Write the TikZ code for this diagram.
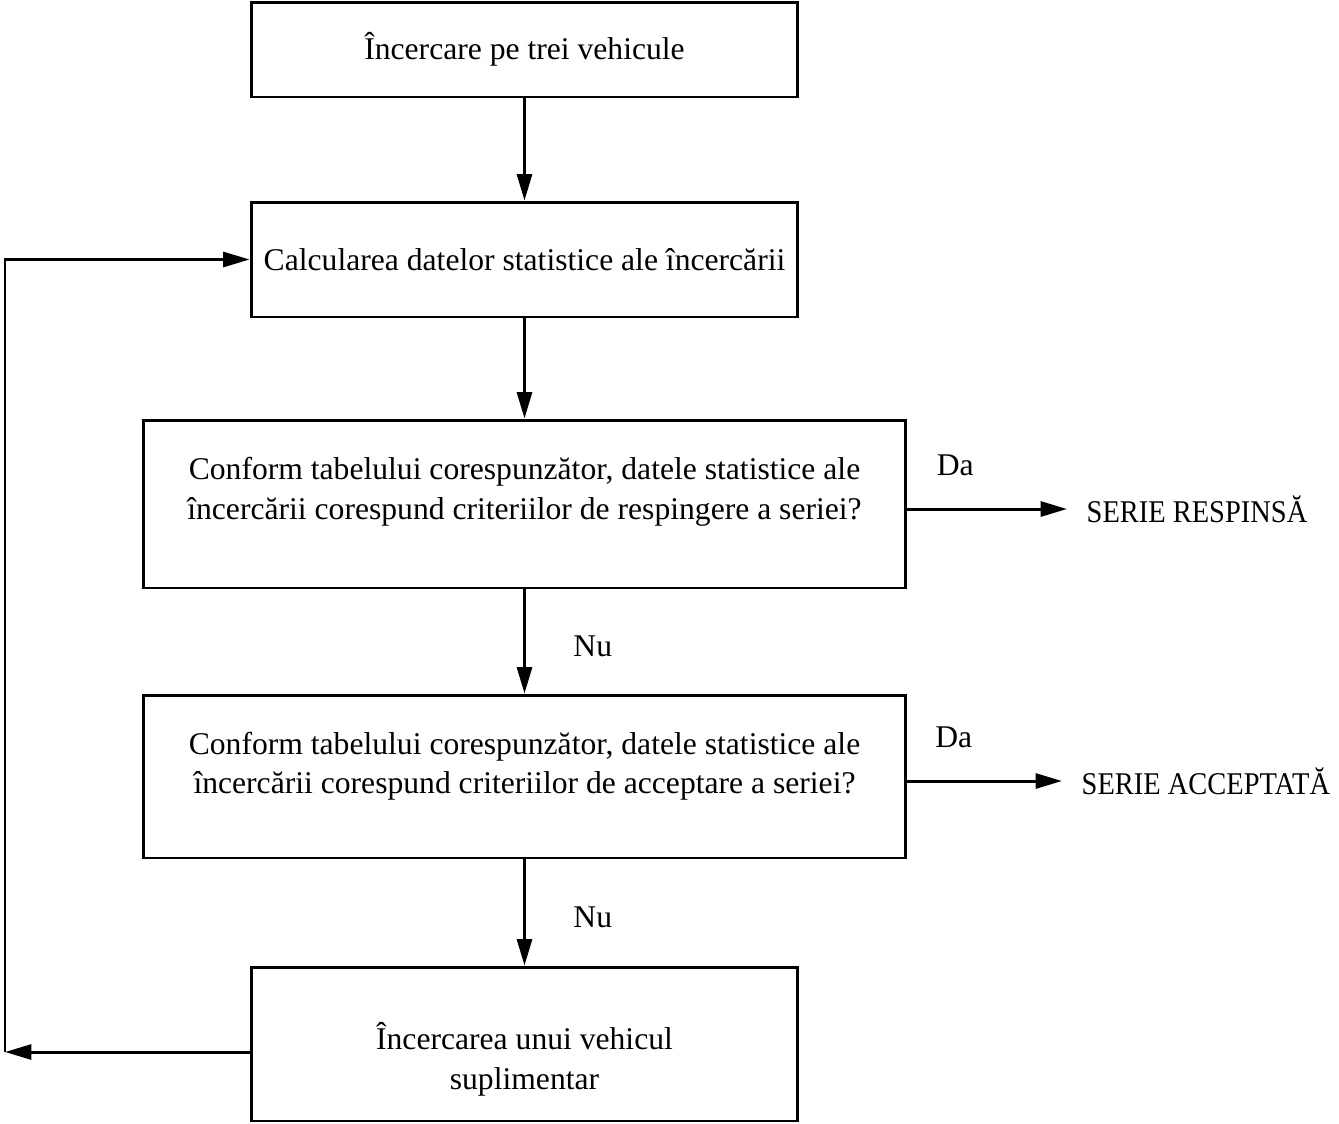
\documentclass[tikz,border=0pt]{standalone}
\usepackage{fontspec}
\setmainfont{Liberation Serif}
\newfontfamily\narrowserif[FakeStretch=0.9]{Liberation Serif}
\usepackage{tikz}
\usetikzlibrary{positioning}
\usetikzlibrary{arrows.meta}

% raise a block of centred lines without changing the box size
\newcommand{\liftlines}[2]{\raisebox{#1}[\height][\depth]{\begin{tabular}{@{}c@{}}#2\end{tabular}}}

\begin{document}
\begin{tikzpicture}[
    x=0.02cm, y=-0.02cm,
    font=\fontsize{18}{22.4}\selectfont,
    box/.style={rectangle, draw, line width=1.7pt, align=center, inner sep=4pt},
    flow/.style={-{Triangle[length=15pt, width=8.5pt]}, line width=1.7pt},
    answer/.style={inner sep=2pt},
    result/.style={anchor=west, inner xsep=11pt, font=\narrowserif\fontsize{18}{22}\selectfont}
]
\useasboundingbox (0,0) rectangle (1339,1123);

% Boxes
\node[box, minimum width=10.94cm, minimum height=1.9cm] (start) at (524.5,49.5) {Încercare pe trei vehicule};
\node[box, minimum width=10.94cm, minimum height=2.3cm] (stats) at (524.5,259.5) {Calcularea datelor statistice ale încercării};
\node[box, minimum width=15.26cm, minimum height=3.36cm] (reject) at (524.5,504) {\liftlines{7pt}{Conform tabelului corespunzător, datele statistice ale\\încercării corespund criteriilor de respingere a seriei?}};
\node[box, minimum width=15.26cm, minimum height=3.26cm] (accept) at (524.5,776.5) {\liftlines{6pt}{Conform tabelului corespunzător, datele statistice ale\\încercării corespund criteriilor de acceptare a seriei?}};
\node[box, minimum width=10.94cm, minimum height=3.08cm] (extra) at (524.5,1044) {\liftlines{-10pt}{Încercarea unui vehicul\\suplimentar}};

% Results
\node[result] (respinsa) at (1067,509) {SERIE RESPINSĂ};
\node[result] (acceptata) at (1062,781) {SERIE ACCEPTATĂ};

% Loop corners
\coordinate (loopdown) at (5,1052);
\coordinate (loopup) at (5,259.5);

% Main flow
\draw[flow] (start) -- (stats);
\draw[flow] (stats) -- (reject);
\draw[flow] (reject) -- node[midway, right, xshift=25pt, yshift=-3pt, answer] {Nu} (accept);
\draw[flow] (accept) -- node[midway, right, xshift=25pt, yshift=-3pt, answer] {Nu} (extra);

% Yes paths
\draw[flow] (reject.east |- respinsa.west) -- node[pos=0.3, above=16pt, answer] {Da} (respinsa.west);
\draw[flow] (accept.east |- acceptata.west) -- node[pos=0.3, above=16pt, answer] {Da} (acceptata.west);

% Repeat loop
\draw[flow] (extra.west |- loopdown) -- (loopdown);
\draw[flow] (loopdown) -- (loopup) -- (stats);

\end{tikzpicture}
\end{document}
